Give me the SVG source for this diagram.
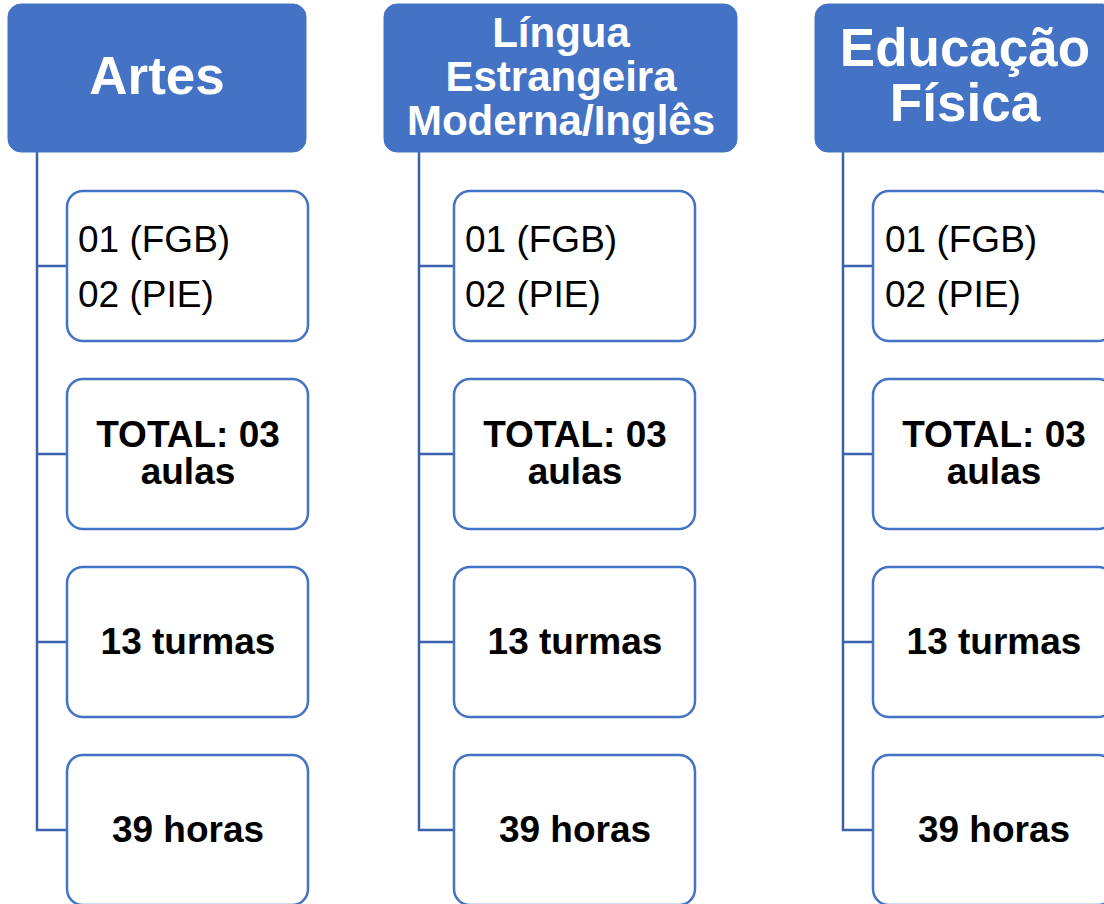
<svg xmlns="http://www.w3.org/2000/svg" width="1104" height="904" viewBox="0 0 1104 904">
<style>
.hdr{fill:#4472C4;stroke:#4472C4;stroke-width:1}
.box{fill:#FFFFFF;stroke:#4472C4;stroke-width:2.5}
.ht{font-family:"Liberation Sans",Arial,sans-serif;font-weight:bold;fill:#FFFFFF;text-anchor:middle}
.bt{font-family:"Liberation Sans",Arial,sans-serif;font-weight:bold;font-size:37px;fill:#000000;text-anchor:middle}
.rt{font-family:"Liberation Sans",Arial,sans-serif;font-size:37px;fill:#000000}
.con{fill:none;stroke:#3A62AC;stroke-width:2.5}
</style>
<rect width="1104" height="904" fill="#FFFFFF"/>
<g id="connectors">
<path class="con" d="M37,152 V830 H67 M37,266 H67 M37,454 H67 M37,642 H67"/>
<path class="con" d="M419,152 V830 H454 M419,266 H454 M419,454 H454 M419,642 H454"/>
<path class="con" d="M843,152 V830 H873 M843,266 H873 M843,454 H873 M843,642 H873"/>
</g>
<g id="h1"><rect class="hdr" x="8" y="4" width="298" height="148" rx="13"/><text class="ht" x="157" y="94" font-size="53">Artes</text></g>
<g id="h2"><rect class="hdr" x="384" y="4" width="353" height="148" rx="13"/>
<text class="ht" font-size="42"><tspan x="561" y="47">Língua</tspan><tspan x="561" y="91">Estrangeira</tspan><tspan x="561" y="135">Moderna/Inglês</tspan></text></g>
<g id="h3"><rect class="hdr" x="815" y="4" width="300" height="148" rx="13"/>
<text class="ht" font-size="53"><tspan x="965" y="66">Educação</tspan><tspan x="965" y="121">Física</tspan></text></g>

<g id="c1b1"><rect class="box" x="67" y="191" width="241" height="150" rx="16"/><text class="rt"><tspan x="78" y="252">01 (FGB)</tspan><tspan x="78" y="307">02 (PIE)</tspan></text></g>
<g id="c1b2"><rect class="box" x="67" y="379" width="241" height="150" rx="16"/><text class="bt"><tspan x="188" y="447">TOTAL: 03</tspan><tspan x="188" y="484">aulas</tspan></text></g>
<g id="c1b3"><rect class="box" x="67" y="567" width="241" height="150" rx="16"/><text class="bt" x="188" y="654">13 turmas</text></g>
<g id="c1b4"><rect class="box" x="67" y="755" width="241" height="150" rx="16"/><text class="bt" x="188" y="842">39 horas</text></g>

<g id="c2b1"><rect class="box" x="454" y="191" width="241" height="150" rx="16"/><text class="rt"><tspan x="465" y="252">01 (FGB)</tspan><tspan x="465" y="307">02 (PIE)</tspan></text></g>
<g id="c2b2"><rect class="box" x="454" y="379" width="241" height="150" rx="16"/><text class="bt"><tspan x="575" y="447">TOTAL: 03</tspan><tspan x="575" y="484">aulas</tspan></text></g>
<g id="c2b3"><rect class="box" x="454" y="567" width="241" height="150" rx="16"/><text class="bt" x="575" y="654">13 turmas</text></g>
<g id="c2b4"><rect class="box" x="454" y="755" width="241" height="150" rx="16"/><text class="bt" x="575" y="842">39 horas</text></g>

<g id="c3b1"><rect class="box" x="873" y="191" width="241" height="150" rx="16"/><text class="rt"><tspan x="885" y="252">01 (FGB)</tspan><tspan x="885" y="307">02 (PIE)</tspan></text></g>
<g id="c3b2"><rect class="box" x="873" y="379" width="241" height="150" rx="16"/><text class="bt"><tspan x="994" y="447">TOTAL: 03</tspan><tspan x="994" y="484">aulas</tspan></text></g>
<g id="c3b3"><rect class="box" x="873" y="567" width="241" height="150" rx="16"/><text class="bt" x="994" y="654">13 turmas</text></g>
<g id="c3b4"><rect class="box" x="873" y="755" width="241" height="150" rx="16"/><text class="bt" x="994" y="842">39 horas</text></g>
</svg>
